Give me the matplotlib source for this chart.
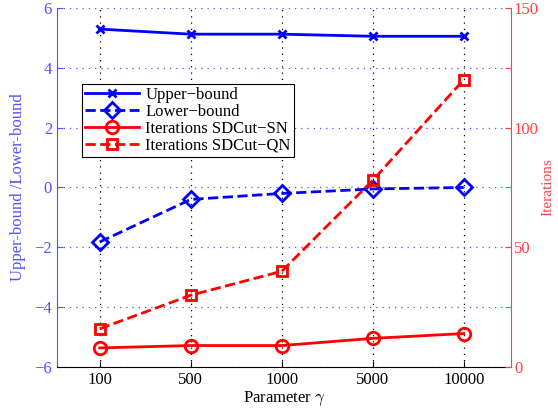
import matplotlib.pyplot as plt
import numpy as np

plt.rcParams['font.family'] = ['Liberation Serif', 'DejaVu Serif']
plt.rcParams['mathtext.fontset'] = 'cm'

# datos
gamma_labels = ['100', '500', '1000', '5000', '10000']
upper_bound = [5.29, 5.12, 5.12, 5.05, 5.05]
lower_bound = [-1.82, -0.40, -0.20, -0.05, 0.0]
iter_sn = [8, 9, 9, 12, 14]
iter_qn = [16, 30, 40, 78, 120]

blue_axis = '#5050ff'
red_axis = '#ff4040'

x = np.arange(len(gamma_labels))

fig, ax = plt.subplots(figsize=(5.58, 4.12), dpi=100)
fig.subplots_adjust(left=0.102, right=0.916, top=0.981, bottom=0.109)
ax2 = ax.twinx()

# eje izquierdo
l1, = ax.plot(x, upper_bound, '-', color='b', lw=2, marker='x', ms=6, mew=2,
              label='Upper\u2212bound')
l2, = ax.plot(x, lower_bound, '--', color='b', lw=2, marker='D', ms=8, mew=2,
              mfc='none', label='Lower\u2212bound')
ax.set_xlim(-0.47, 4.52)
ax.set_ylim(-6, 6)
ax.set_yticks(np.arange(-6, 7, 2))
ax.set_xticks(x)
ax.set_xticklabels(gamma_labels)
ax.set_xlabel(r'Parameter $\gamma$', fontsize=12, labelpad=1)
ax.set_ylabel('Upper-bound /Lower-bound', color=blue_axis, fontsize=12, labelpad=6)
ax.tick_params(axis='y', colors=blue_axis, labelsize=12, direction='in', length=4)
ax.tick_params(axis='x', labelsize=12, direction='in', length=4)
ax.yaxis.grid(True, color=blue_axis, linestyle=(0, (1, 4)), lw=0.9)
ax.xaxis.grid(True, color='k', linestyle=(0, (1, 4)), lw=0.9)
ax.spines['left'].set_color(blue_axis)
ax.spines['top'].set_visible(False)
ax.spines['right'].set_visible(False)

# eje derecho
l3, = ax2.plot(x, iter_sn, '-', color='r', lw=2, marker='o', ms=9, mew=2,
               mfc='none', label='Iterations SDCut\u2212SN')
l4, = ax2.plot(x, iter_qn, '--', color='r', lw=2, marker='s', ms=7, mew=2,
               mfc='none', label='Iterations SDCut\u2212QN')
ax2.set_ylim(0, 150)
ax2.set_yticks(np.arange(0, 151, 50))
ax2.set_yticks(np.arange(25, 150, 50), minor=True)
ax2.set_ylabel('Iterations', color=red_axis, fontsize=11, labelpad=2)
ax2.tick_params(axis='y', which='both', colors=red_axis, labelsize=12,
                direction='in', length=4, pad=2)
ax2.spines['right'].set_color(red_axis)
ax2.spines['left'].set_visible(False)
ax2.spines['top'].set_visible(False)
ax2.spines['bottom'].set_visible(False)

leg = ax2.legend(handles=[l1, l2, l3, l4], loc='upper left',
                 bbox_to_anchor=(0.055, 0.788), borderaxespad=0,
                 fancybox=False, edgecolor='k', framealpha=1, fontsize=12,
                 handlelength=3.2, borderpad=0.2, labelspacing=0.05,
                 handletextpad=0.4)
leg.get_frame().set_linewidth(0.8)

plt.savefig('out.png', dpi=100)
